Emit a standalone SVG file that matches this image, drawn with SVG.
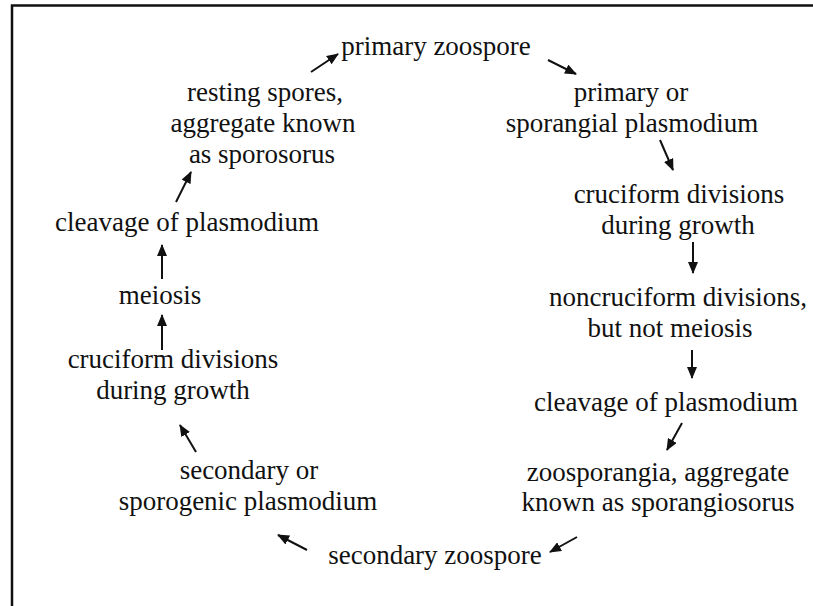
<svg xmlns="http://www.w3.org/2000/svg" width="813" height="606" viewBox="0 0 813 606">
<style>
text{font-family:"Liberation Serif","Times New Roman",serif;font-size:27px;fill:#111;text-anchor:middle}
.c{stroke:#111;stroke-width:2;fill:none;marker-end:url(#ah)}
.b{stroke:#111;stroke-width:2.5;fill:none}
</style>
<defs>
<marker id="ah" viewBox="0 0 12 10" refX="11" refY="5" markerWidth="12" markerHeight="10" markerUnits="userSpaceOnUse" orient="auto">
<path d="M0,0 L12,5 L0,10 Z" fill="#111"/>
</marker>
</defs>
<rect width="813" height="606" fill="#fff"/>
<path class="b" d="M12,606 V5.5 H813"/>
<g id="n1"><text x="436" y="55">primary zoospore</text></g>
<g id="n2"><text x="631" y="101">primary or</text><text x="632" y="132">sporangial plasmodium</text></g>
<g id="n3"><text x="679" y="203">cruciform divisions</text><text x="678" y="234">during growth</text></g>
<g id="n4"><text x="678" y="306">noncruciform divisions,</text><text x="670" y="337">but not meiosis</text></g>
<g id="n5"><text x="666" y="411">cleavage of plasmodium</text></g>
<g id="n6"><text x="658" y="481">zoosporangia, aggregate</text><text x="658" y="511">known as sporangiosorus</text></g>
<g id="n7"><text x="435" y="564">secondary zoospore</text></g>
<g id="n8"><text x="249" y="479">secondary or</text><text x="248" y="510">sporogenic plasmodium</text></g>
<g id="n9"><text x="173" y="368">cruciform divisions</text><text x="173" y="399">during growth</text></g>
<g id="n10"><text x="160" y="304">meiosis</text></g>
<g id="n11"><text x="187" y="231">cleavage of plasmodium</text></g>
<g id="n12"><text x="265" y="101">resting spores,</text><text x="263" y="132">aggregate known</text><text x="262" y="163">as sporosorus</text></g>
<g id="connectors">
<line class="c" x1="311" y1="72" x2="338" y2="54"/>
<line class="c" x1="548" y1="60" x2="576" y2="74"/>
<line class="c" x1="660" y1="140" x2="673" y2="170"/>
<line class="c" x1="693" y1="242" x2="693" y2="273"/>
<line class="c" x1="692" y1="350" x2="692" y2="378"/>
<line class="c" x1="682" y1="423" x2="667" y2="450"/>
<line class="c" x1="577" y1="537" x2="550" y2="552"/>
<line class="c" x1="307" y1="550" x2="278" y2="535"/>
<line class="c" x1="196" y1="452" x2="180" y2="425"/>
<line class="c" x1="162" y1="350" x2="162" y2="315"/>
<line class="c" x1="162" y1="279" x2="162" y2="245"/>
<line class="c" x1="176" y1="202" x2="191" y2="172"/>
</g>
</svg>
